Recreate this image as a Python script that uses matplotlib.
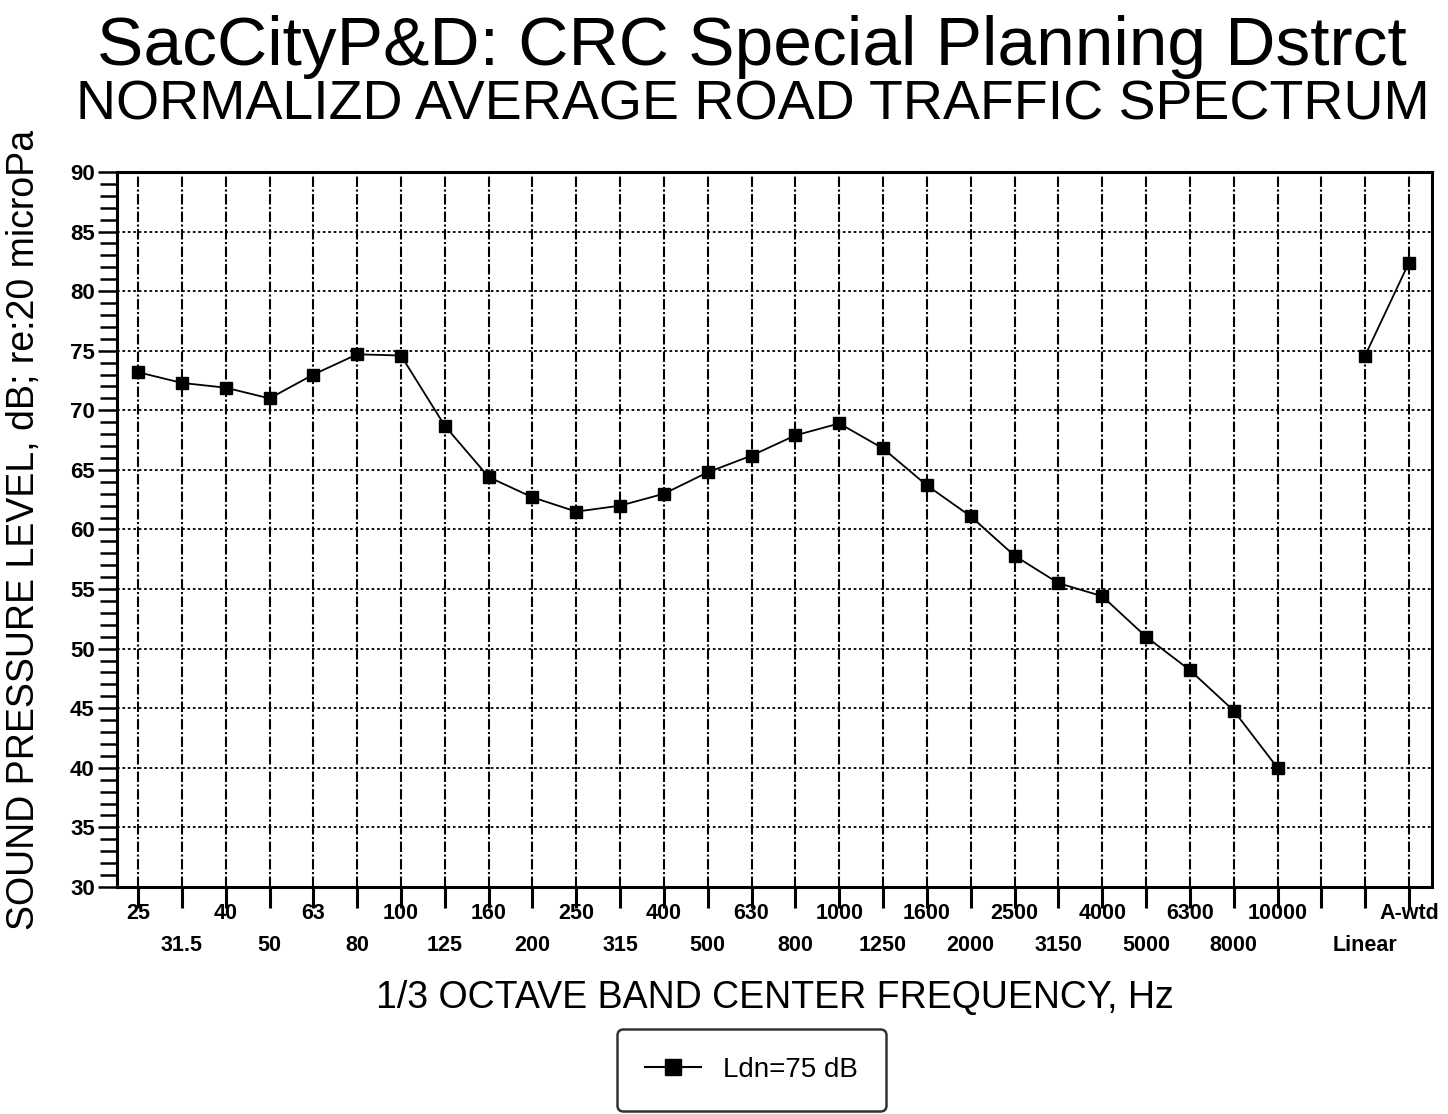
import numpy as np
import matplotlib
matplotlib.use("Agg")
import matplotlib.pyplot as plt
from matplotlib.lines import Line2D

plt.rcParams['font.family'] = ['Liberation Sans', 'DejaVu Sans']

# 1/3 octave bands
bands = ['25', '31.5', '40', '50', '63', '80', '100', '125', '160', '200',
         '250', '315', '400', '500', '630', '800', '1000', '1250', '1600',
         '2000', '2500', '3150', '4000', '5000', '6300', '8000', '10000']
spl = [73.2, 72.3, 71.9, 71.0, 73.0, 74.7, 74.6, 68.7, 64.4, 62.7,
       61.5, 62.0, 63.0, 64.8, 66.2, 67.9, 68.9, 66.8, 63.7, 61.1,
       57.8, 55.5, 54.4, 51.0, 48.2, 44.8, 40.0]

# overall levels
overall_labels = ['Linear', 'A-wtd']
overall_spl = [74.6, 82.4]

n = len(bands)
x_bands = np.arange(n)
x_overall = np.arange(n + 1, n + 3)

fig = plt.figure(figsize=(14.48, 11.14), dpi=100)
ax = fig.add_axes([0.0808, 0.2038, 0.908, 0.6418])

# grid
for xx in range(n + 3):
    ax.axvline(xx, color='black', lw=1.5, ls=(0, (5, 1.2, 1, 1.2)), zorder=1)
for yy in range(35, 90, 5):
    ax.axhline(yy, color='black', lw=1.3, ls=(0, (1.5, 1.5)), zorder=1)

ax.plot(x_bands, spl, color='black', lw=1.3, marker='s', ms=9, zorder=3)
ax.plot(x_overall, overall_spl, color='black', lw=1.3, marker='s', ms=9, zorder=3)

ax.set_xlim(-0.48, n + 2.52)
ax.set_ylim(30, 90)

for s in ax.spines.values():
    s.set_linewidth(2.2)

# y ticks
ax.set_yticks(np.arange(30, 91, 5))
ax.set_yticks(np.arange(30, 91, 1), minor=True)
ax.tick_params(axis='y', which='major', length=14, width=1.8, labelsize=16, pad=2)
ax.tick_params(axis='y', which='minor', length=12, width=1.8)
for lab in ax.get_yticklabels():
    lab.set_fontweight('bold')

# x ticks with two-row labels
all_labels = bands + [''] + overall_labels
ax.set_xticks(np.arange(n + 3))
ax.set_xticklabels([])
ax.tick_params(axis='x', which='major', length=15, width=2.2)
top_row = {i for i in range(0, n, 2)} | {n + 2}
for i, lab in enumerate(all_labels):
    if not lab:
        continue
    yoff = -0.037 if i in top_row else -0.082
    ax.text(i, yoff, lab, transform=ax.get_xaxis_transform(), ha='center',
            va='center', fontsize=15.5, fontweight='bold')

ax.set_ylabel('SOUND PRESSURE LEVEL, dB; re:20 microPa', fontsize=27, labelpad=20)
ax.text(0.5, -0.155, '1/3 OCTAVE BAND CENTER FREQUENCY, Hz', transform=ax.transAxes,
        ha='center', va='center', fontsize=27)

fig.text(0.519, 0.958, 'SacCityP&D: CRC Special Planning Dstrct', ha='center',
         va='center', fontsize=50)
fig.text(0.520, 0.905, 'NORMALIZD AVERAGE ROAD TRAFFIC SPECTRUM', ha='center',
         va='center', fontsize=40)

handle = Line2D([], [], color='black', lw=1.5, marker='s', ms=11)
leg = fig.legend([handle], ['Ldn=75 dB'], loc='center', bbox_to_anchor=(0.519, 0.0395),
                 fontsize=20, frameon=True, fancybox=True, edgecolor='black',
                 borderpad=1.0, handlelength=2.0, borderaxespad=0)
leg.get_frame().set_linewidth(1.8)

fig.savefig('out.png', dpi=100, facecolor='white')
